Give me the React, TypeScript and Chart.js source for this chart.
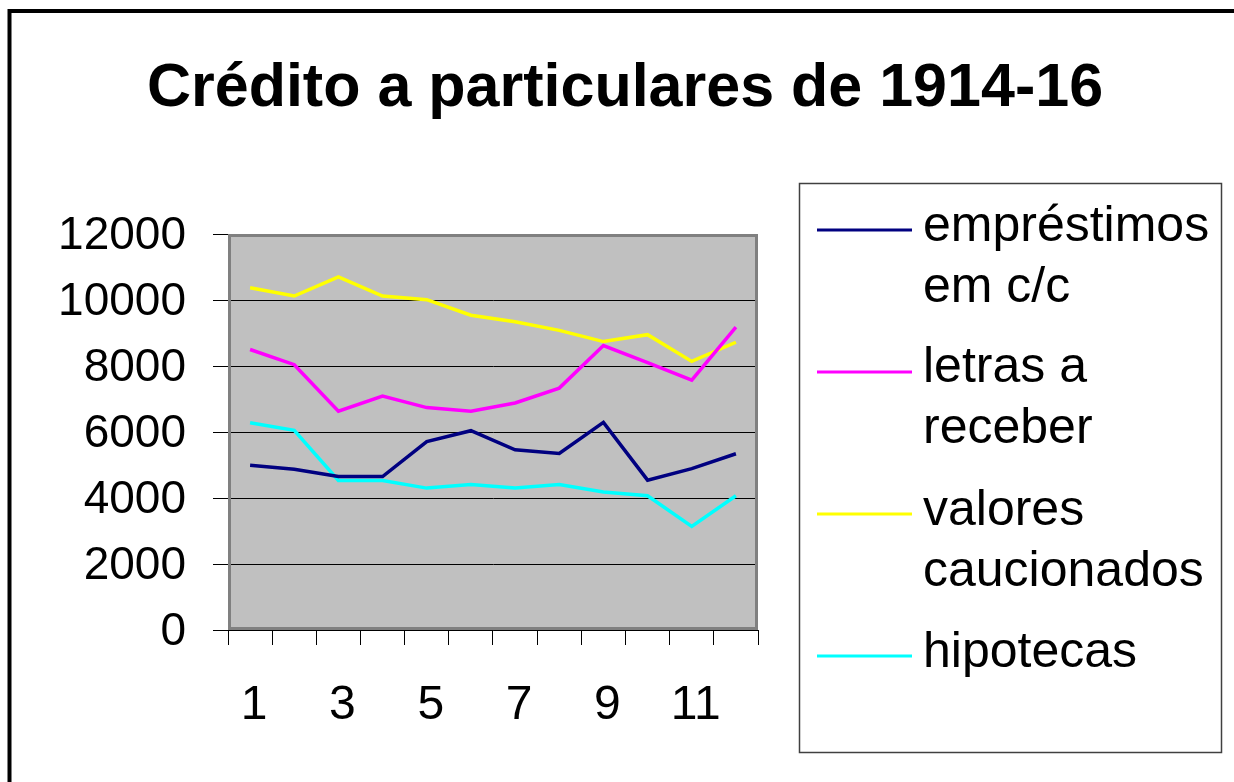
import React, { useEffect, useRef } from "react";
import { Chart, registerables } from "chart.js";

Chart.register(...registerables);

const TITLE = "Crédito a particulares de 1914-16";
const CATEGORIES = ["1", "2", "3", "4", "5", "6", "7", "8", "9", "10", "11", "12"];
const EMPRESTIMOS = [4990, 4870, 4650, 4650, 5710, 6040, 5460, 5350, 6290, 4540, 4890, 5340];
const LETRAS = [8500, 8040, 6630, 7090, 6740, 6630, 6880, 7330, 8620, 8100, 7570, 9180];
const VALORES = [10370, 10120, 10700, 10120, 10010, 9540, 9340, 9080, 8740, 8950, 8140, 8720];
const HIPOTECAS = [6280, 6050, 4530, 4530, 4300, 4410, 4300, 4410, 4180, 4070, 3140, 4070];
const SERIES_NAMES = [["empréstimos", "em c/c"], ["letras a", "receber"], ["valores", "caucionados"], ["hipotecas"]];
const SERIES_COLORS = ["#000080", "#FF00FF", "#FFFF00", "#00FFFF"];
const Y_MIN = 0;
const Y_MAX = 12000;
const Y_STEP = 2000;

const FONT = "'Liberation Sans', Arial, sans-serif";

const decorPlugin = {
  id: "decor",
  beforeDraw(chart: any) {
    const { ctx, chartArea } = chart;
    ctx.save();
    ctx.fillStyle = "#ffffff";
    ctx.fillRect(0, 0, chart.width, chart.height);
    ctx.fillStyle = "#C0C0C0";
    ctx.fillRect(chartArea.left, chartArea.top, chartArea.right - chartArea.left, chartArea.bottom - chartArea.top);
    ctx.restore();
  },
  beforeDatasetsDraw(chart: any) {
    const { ctx, chartArea } = chart;
    ctx.save();
    ctx.strokeStyle = "#808080";
    ctx.lineWidth = 3;
    ctx.strokeRect(chartArea.left + 1.5, chartArea.top + 1.5, chartArea.right - chartArea.left - 3, chartArea.bottom - chartArea.top - 3);
    ctx.restore();
  },
  afterDraw(chart: any) {
    const { ctx } = chart;
    ctx.save();
    // outer frame
    ctx.strokeStyle = "#000";
    ctx.lineWidth = 4;
    ctx.beginPath();
    ctx.moveTo(9.5, 800);
    ctx.lineTo(9.5, 11);
    ctx.lineTo(1240, 11);
    ctx.stroke();
    // title
    ctx.fillStyle = "#000";
    ctx.font = `bold 61px ${FONT}`;
    ctx.textAlign = "center";
    ctx.textBaseline = "alphabetic";
    ctx.fillText(TITLE, 625, 106);
    // legend
    ctx.strokeStyle = "#404040";
    ctx.lineWidth = 1.5;
    ctx.strokeRect(799.5, 183.5, 422, 569);
    const lineYs = [230, 372, 514, 656];
    const baselines = [[241, 302], [382, 443], [525, 586], [667]];
    ctx.font = `50px ${FONT}`;
    ctx.textAlign = "left";
    SERIES_NAMES.forEach((lines, i) => {
      ctx.strokeStyle = SERIES_COLORS[i];
      ctx.lineWidth = 3;
      ctx.beginPath();
      ctx.moveTo(817, lineYs[i]);
      ctx.lineTo(912, lineYs[i]);
      ctx.stroke();
      ctx.fillStyle = "#000";
      lines.forEach((t, j) => ctx.fillText(t, 923, baselines[i][j]));
    });
    ctx.restore();
  },
};

export default function App() {
  const canvasRef = useRef<HTMLCanvasElement>(null);

  useEffect(() => {
    if (!canvasRef.current) return;
    const mk = (label: string, data: number[], color: string) => ({
      label,
      data,
      borderColor: color,
      backgroundColor: color,
      borderWidth: 3.5,
      pointRadius: 0,
      tension: 0,
      fill: false,
    });
    const chart = new Chart(canvasRef.current, {
      type: "line",
      data: {
        labels: CATEGORIES,
        datasets: [
          mk(SERIES_NAMES[0].join(" "), EMPRESTIMOS, SERIES_COLORS[0]),
          mk(SERIES_NAMES[1].join(" "), LETRAS, SERIES_COLORS[1]),
          mk(SERIES_NAMES[2].join(" "), VALORES, SERIES_COLORS[2]),
          mk(SERIES_NAMES[3].join(" "), HIPOTECAS, SERIES_COLORS[3]),
        ],
      },
      options: {
        animation: false,
        responsive: false,
        layout: { padding: { top: 234, right: 476, left: 0, bottom: 0 } },
        plugins: {
          legend: { display: false },
          title: { display: false },
          tooltip: { enabled: false },
        },
        scales: {
          x: {
            offset: true,
            afterFit: (s: any) => { s.height = 152; },
            grid: { offset: true, drawOnChartArea: false, drawTicks: true, tickLength: 15, color: "#000", lineWidth: 1 },
            border: { display: true, color: "#000", width: 1 },
            ticks: {
              autoSkip: false,
              maxRotation: 0,
              padding: 32,
              labelOffset: 4,
              color: "#000",
              font: { family: FONT, size: 48 },
              callback: (_v: any, i: number) => (i % 2 === 0 ? CATEGORIES[i] : ""),
            },
          },
          y: {
            min: Y_MIN,
            max: Y_MAX,
            afterFit: (s: any) => { s.width = 228; },
            grid: { color: "#000", lineWidth: 1, drawTicks: true, tickLength: 15 },
            border: { display: true, color: "#000", width: 1 },
            ticks: {
              stepSize: Y_STEP,
              padding: 27,
              labelOffset: 2,
              color: "#000",
              font: { family: FONT, size: 46 },
              callback: (v: any) => String(v),
            },
          },
        },
      },
      plugins: [decorPlugin],
    } as any);
    return () => chart.destroy();
  }, []);

  return (
    <div style={{ position: "absolute", left: 0, top: 0, width: 1234, height: 782 }}>
      <canvas ref={canvasRef} width={1234} height={782} style={{ display: "block" }} />
    </div>
  );
}
